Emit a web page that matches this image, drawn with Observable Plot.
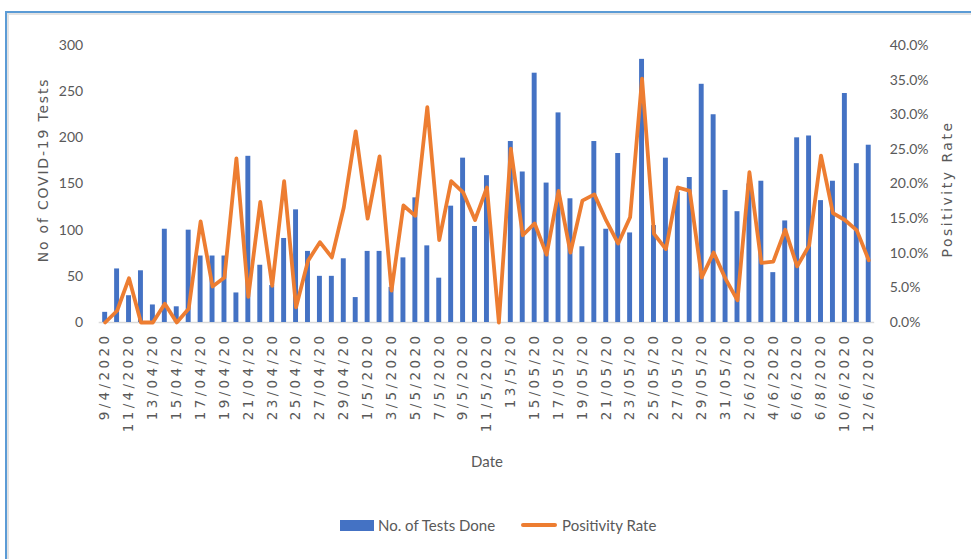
<!DOCTYPE html>
<html>
<head>
<meta charset="utf-8">
<script src="https://cdn.jsdelivr.net/npm/d3@7"></script>
<script src="https://cdn.jsdelivr.net/npm/@observablehq/plot@0.6"></script>
<style>
  html, body { margin: 0; padding: 0; background: #fff; overflow: hidden; width: 971px; height: 559px; }
  #frame { position: absolute; left: 5px; top: 11px; width: 1000px; height: 600px;
           border-top: 2.5px solid #5b9bd5; border-left: 2.5px solid #5b9bd5;
           box-shadow: inset 2px 2px 0 #e3e3e3; }
  #chart { position: absolute; left: 0; top: 0; }
  #chart g[aria-label="x-axis tick label"] { letter-spacing: 3.4px; }
  #legend { position: absolute; top: 516px; left: 340px; display: flex; align-items: center;
            font-family: Lato, "Liberation Sans", sans-serif; font-size: 15px; color: #595959; }
  .sw-bar { width: 34px; height: 11px; background: #4472C4; margin-right: 4px; }
  .sw-line { width: 36px; height: 4px; background: #ED7D31; border-radius: 2px; margin-right: 5px; margin-left: 26px; }
</style>
</head>
<body>
<div id="frame"></div>
<div id="chart"></div>
<div id="legend">
  <div class="sw-bar"></div><span>No. of Tests Done</span>
  <div class="sw-line"></div><span>Positivity Rate</span>
</div>
<script>
const dates = [
  "9/4/2020","10/4/2020","11/4/2020","12/4/2020","13/04/20","14/04/20","15/04/20","16/04/20",
  "17/04/20","18/04/20","19/04/20","20/04/20","21/04/20","22/04/20","23/04/20","24/04/20",
  "25/04/20","26/04/20","27/04/20","28/04/20","29/04/20","30/04/20","1/5/2020","2/5/2020",
  "3/5/2020","4/5/2020","5/5/2020","6/5/2020","7/5/2020","8/5/2020","9/5/2020","10/5/2020",
  "11/5/2020","12/5/2020","13/5/20","14/5/20","15/05/20","16/05/20","17/05/20","18/05/20",
  "19/05/20","20/05/20","21/05/20","22/05/20","23/05/20","24/05/20","25/05/20","26/05/20",
  "27/05/20","28/05/20","29/05/20","30/05/20","31/05/20","1/6/2020","2/6/2020","3/6/2020",
  "4/6/2020","5/6/2020","6/6/2020","7/6/2020","6/8/2020","9/6/2020","10/6/2020","11/6/2020",
  "12/6/2020"
];
const tests = [
  11,58,29,56,19,101,17,100,72,72,
  72,32,180,62,40,91,122,77,50,50,
  69,27,77,77,38,70,135,83,48,126,
  178,104,159,0,196,163,270,151,227,134,
  82,196,101,183,97,285,105,178,141,157,
  258,225,143,120,150,153,54,110,200,202,
  132,153,248,172,192
];
const positivity = [
  0,1.7,6.4,0,0,2.7,0,2.0,14.6,5.2,
  6.5,23.7,3.7,17.4,5.3,20.4,2.2,8.9,11.6,9.4,
  16.6,27.6,15.0,24.0,4.6,16.9,15.4,31.1,11.9,20.4,
  18.8,14.8,19.5,0,25.1,12.6,14.3,9.8,19.0,10.1,
  17.6,18.5,14.7,11.4,15.2,35.2,12.8,10.6,19.5,19.0,
  6.5,10.1,6.3,3.2,21.7,8.6,8.8,13.4,8.1,11.1,
  24.1,15.8,14.8,13.3,9.0
];
const xTickLabels = dates.filter((d, i) => i % 2 === 0);
const countTicks = [0, 50, 100, 150, 200, 250, 300];
const rateTicks = [0, 5, 10, 15, 20, 25, 30, 35, 40];
const countMax = 300, rateMax = 40;
const k = countMax / rateMax; // maps % onto the count scale

const rows = dates.map((d, i) => ({date: d, tests: tests[i], rate: positivity[i]}));

const W = 971, H = 470;
const numFont = "Lato, 'Liberation Sans', sans-serif";
const vFont = "'DejaVu Sans', Verdana, sans-serif";

const chart = Plot.plot({
  width: W, height: H,
  marginTop: 45, marginBottom: H - 322, marginLeft: 98.7, marginRight: 96.8,
  x: {type: "band", domain: dates, padding: 0},
  y: {domain: [0, countMax]},
  style: {background: "transparent", fontFamily: numFont, color: "#595959"},
  marks: [
    Plot.ruleY([0], {stroke: "#d9d9d9", strokeWidth: 1.5}),
    Plot.barY(rows, {x: "date", y: "tests", fill: "#4472C4", insetLeft: 3.5, insetRight: 3.5}),
    Plot.lineY(rows, {x: "date", y: d => d.rate * k, stroke: "#ED7D31", strokeWidth: 3.8, strokeLinejoin: "round"}),
    Plot.axisX({ticks: xTickLabels, tickRotate: -90, tickSize: 0, tickPadding: 10, label: null,
                fontSize: 13.5, fontFamily: vFont, color: "#595959"}),
    Plot.axisY({anchor: "left", ticks: countTicks, tickSize: 0, tickPadding: 16, label: null,
                fontSize: 14, color: "#595959"}),
    Plot.axisY({anchor: "right", ticks: rateTicks.map(r => r * k), tickFormat: v => (v / k).toFixed(1) + "%",
                tickSize: 0, tickPadding: 15, label: null, fontSize: 14, color: "#595959"})
  ]
});
document.getElementById("chart").appendChild(chart);

const svg = d3.select(chart);
svg.append("text")
  .attr("transform", "translate(48,170) rotate(-90)")
  .attr("text-anchor", "middle")
  .attr("font-family", vFont).attr("font-size", 14)
  .attr("letter-spacing", "1.8px")
  .attr("fill", "#595959")
  .text("No of COVID-19 Tests");
svg.append("text")
  .attr("transform", "translate(952,189) rotate(-90)")
  .attr("text-anchor", "middle")
  .attr("font-family", vFont).attr("font-size", 14)
  .attr("letter-spacing", "2.5px")
  .attr("fill", "#595959")
  .text("Positivity Rate");
svg.append("text")
  .attr("x", 487).attr("y", 467)
  .attr("text-anchor", "middle")
  .attr("font-family", numFont).attr("font-size", 15)
  .attr("fill", "#595959")
  .text("Date");
</script>
</body>
</html>
